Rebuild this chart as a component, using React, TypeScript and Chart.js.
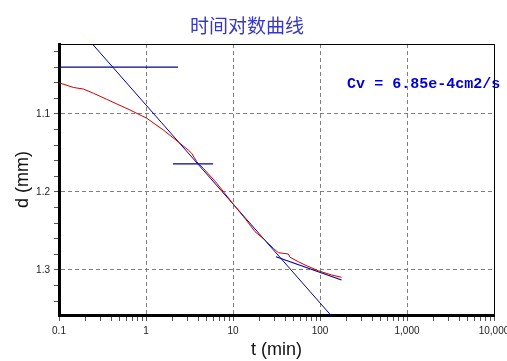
import React, { useEffect, useRef } from "react";
import { Chart, registerables } from "chart.js";

Chart.register(...registerables);

// Measured settlement curve (t in min, d in mm)
const curveT = [0.1, 0.146, 0.19, 0.25, 0.35, 0.655, 1.02, 1.58, 2.46, 3.06, 3.35, 3.83, 4.56, 6.5, 9.25, 11, 14, 17.9, 23.3, 29.1, 33.2, 43.3, 45.2, 56.4, 67.3, 95.5, 136, 177];
const curveD = [1.06, 1.066, 1.068, 1.0735, 1.081, 1.0949, 1.1055, 1.1205, 1.1376, 1.1462, 1.1504, 1.1612, 1.1696, 1.1888, 1.2103, 1.2209, 1.235, 1.2509, 1.2615, 1.2722, 1.2778, 1.2795, 1.2837, 1.2894, 1.2936, 1.301, 1.3064, 1.3094];

// Construction lines
const steepT = [0.2, 140];
const steepD = [0.9998, 1.3607];
const secT = [31.2, 177];
const secD = [1.283, 1.3128];
const h1T = [0.1, 2.33];
const h1D = [1.04, 1.04];
const h2T = [2.04, 5.89];
const h2D = [1.164, 1.164];

// Axes
const xMin = 0.1;
const xMax = 10000;
const xDecades = [0.1, 1, 10, 100, 1000, 10000];
const xMinorMult = [2, 3, 4, 5, 6, 7, 8, 9];
const yMin = 1.0103;
const yMax = 1.3577;
const yTicks = [1.02, 1.04, 1.06, 1.08, 1.1, 1.12, 1.14, 1.16, 1.18, 1.2, 1.22, 1.24, 1.26, 1.28, 1.3, 1.32, 1.34];
const yLabeled = [1.1, 1.2, 1.3];

const titleText = "时间对数曲线";
const cvText = "Cv = 6.85e-4cm2/s";
const cvPos = { t: 205, d: 1.067 };

const pts = (xs: number[], ys: number[]) => xs.map((x, i) => ({ x, y: ys[i] }));
const isDecade = (v: number) => Math.abs(Math.log10(v) - Math.round(Math.log10(v))) < 1e-9;
const isLabeledY = (v: number) => yLabeled.some((l) => Math.abs(l - v) < 1e-9);

export default function App() {
  const ref = useRef<HTMLCanvasElement | null>(null);

  useEffect(() => {
    document.body.style.margin = "0";
    const canvas = ref.current;
    if (!canvas) return;

    const xTickVals: number[] = [];
    xDecades.forEach((d, i) => {
      xTickVals.push(d);
      if (i < xDecades.length - 1) xMinorMult.forEach((m) => xTickVals.push(d * m));
    });

    const framePlugin = {
      id: "frame",
      afterDatasetsDraw(chart: any) {
        const { ctx, chartArea, scales } = chart;
        ctx.save();
        ctx.strokeStyle = "#000";
        ctx.lineWidth = 1;
        ctx.setLineDash([]);
        ctx.beginPath();
        ctx.moveTo(chartArea.left, chartArea.top + 0.5);
        ctx.lineTo(chartArea.right + 0.5, chartArea.top + 0.5);
        ctx.lineTo(chartArea.right + 0.5, chartArea.bottom);
        ctx.stroke();
        ctx.font = "bold 15px 'Liberation Mono', 'DejaVu Sans Mono', monospace";
        ctx.fillStyle = "#0000d0";
        ctx.textAlign = "left";
        ctx.textBaseline = "alphabetic";
        ctx.fillText(cvText, scales.x.getPixelForValue(cvPos.t), scales.y.getPixelForValue(cvPos.d));
        ctx.restore();
      },
    };

    const chart = new Chart(canvas, {
      type: "scatter",
      data: {
        datasets: [
          { data: pts(curveT, curveD), showLine: true, borderColor: "#cc0000", borderWidth: 1, pointRadius: 0, tension: 0 },
          { data: pts(steepT, steepD), showLine: true, borderColor: "#0000a8", borderWidth: 1, pointRadius: 0 },
          { data: pts(secT, secD), showLine: true, borderColor: "#0000a8", borderWidth: 1.2, pointRadius: 0 },
          { data: pts(h1T, h1D), showLine: true, borderColor: "#0000a8", borderWidth: 1.3, pointRadius: 0 },
          { data: pts(h2T, h2D), showLine: true, borderColor: "#0000a8", borderWidth: 1.3, pointRadius: 0 },
        ],
      },
      options: {
        responsive: false,
        animation: false,
        layout: { padding: { left: 0, right: 13, top: 0, bottom: 0 } },
        plugins: {
          legend: { display: false },
          tooltip: { enabled: false },
          title: {
            display: true,
            text: titleText,
            color: "#3838c8",
            font: { family: "'Noto Sans CJK SC', sans-serif", size: 19, weight: "normal" },
            padding: { top: 14.1, bottom: 7.1 },
          },
        },
        scales: {
          x: {
            type: "logarithmic",
            min: xMin,
            max: xMax,
            afterBuildTicks: (s: any) => {
              s.ticks = xTickVals.map((v) => ({ value: v, major: isDecade(v) }));
            },
            afterFit: (s: any) => {
              s.height = 46;
              s.paddingLeft = 0;
              s.paddingRight = 0;
            },
            ticks: {
              autoSkip: false,
              maxRotation: 0,
              padding: 4,
              color: "#222",
              font: { family: "'Liberation Sans', Arial, sans-serif", size: 10 },
              callback: (v: any) => (isDecade(Number(v)) ? Number(v).toLocaleString("en-US") : ""),
            },
            grid: {
              color: (c: any) => (c.tick && isDecade(c.tick.value) ? "#808080" : "rgba(0,0,0,0)"),
              tickColor: "#555",
              tickLength: 6,
              tickBorderDash: [],
              lineWidth: 1,
            },
            border: { display: true, color: "#000", width: 3, dash: [4, 3] },
            title: {
              display: true,
              text: "t (min)",
              color: "#111",
              font: { family: "'Liberation Sans', Arial, sans-serif", size: 18 },
              padding: { top: 0, bottom: 0 },
            },
          },
          y: {
            type: "linear",
            reverse: true,
            min: yMin,
            max: yMax,
            afterBuildTicks: (s: any) => {
              s.ticks = yTicks.map((v) => ({ value: v }));
            },
            afterFit: (s: any) => {
              s.width = 59;
              s.paddingTop = 0;
              s.paddingBottom = 0;
            },
            ticks: {
              autoSkip: false,
              padding: 4,
              color: "#222",
              font: { family: "'Liberation Sans', Arial, sans-serif", size: 10 },
              callback: (v: any) => (isLabeledY(Number(v)) ? Number(v).toFixed(1) : ""),
            },
            grid: {
              color: (c: any) => (c.tick && isLabeledY(c.tick.value) ? "#808080" : "rgba(0,0,0,0)"),
              tickColor: "#555",
              tickLength: 5,
              tickBorderDash: [],
              lineWidth: 1,
            },
            border: { display: true, color: "#000", width: 3, dash: [4, 3] },
            title: {
              display: true,
              text: "d (mm)",
              color: "#111",
              font: { family: "'Liberation Sans', Arial, sans-serif", size: 18 },
              padding: { top: 12, bottom: 0 },
            },
          },
        },
      },
      plugins: [framePlugin],
    } as any);

    return () => chart.destroy();
  }, []);

  return (
    <div style={{ width: 507, height: 361, background: "#fff" }}>
      <canvas ref={ref} width={507} height={361} />
    </div>
  );
}
